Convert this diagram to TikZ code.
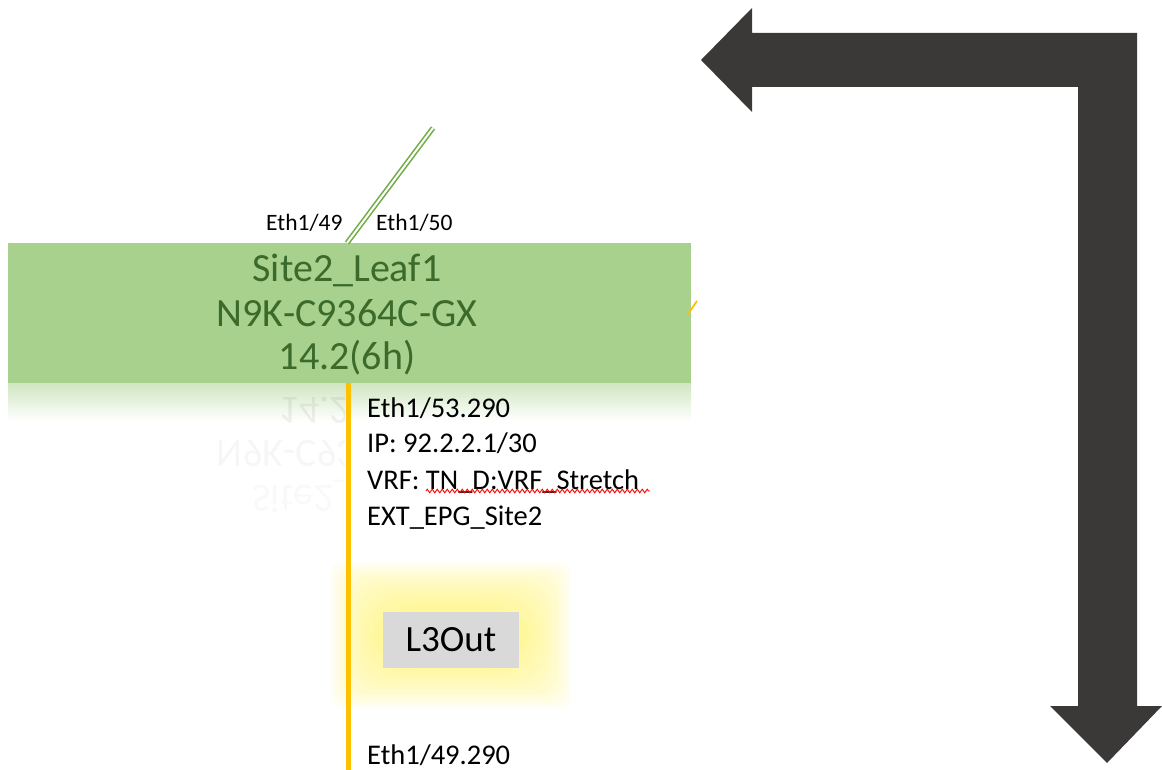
\documentclass[tikz,border=0pt]{standalone}
\usepackage{fontspec}
\setmainfont{Carlito}
\usetikzlibrary{decorations.pathmorphing}
\definecolor{leafgreen}{HTML}{A9D18E}
\definecolor{leaftext}{HTML}{3B6A2A}
\definecolor{linkgreen}{HTML}{70AD47}
\definecolor{l3orange}{HTML}{FFC000}
\definecolor{arrowgray}{HTML}{3B3838}
\definecolor{boxgray}{HTML}{D9D9D9}
\definecolor{glow}{HTML}{FFF36A}
\tikzset{
  leaftxt/.style={font=\fontsize{40}{42}\selectfont, text=leaftext, inner sep=0pt, anchor=base},
  porttxt/.style={font=\fontsize{23.5}{25}\selectfont, inner sep=0pt, anchor=base west},
  infotxt/.style={font=\fontsize{28.5}{30}\selectfont, inner sep=0pt, anchor=base west},
  mirtxt/.style={font=\fontsize{40}{42}\selectfont, text=black, opacity=0.06, inner sep=0pt, anchor=base, yscale=-1},
}
\begin{document}
\begin{tikzpicture}[x=1pt,y=-1pt]
\useasboundingbox (0,0) rectangle (1162,770);
% big L-shaped arrow
\fill[arrowgray] (701,60) -- (752,8) -- (752,33) -- (1137,33) -- (1137,706) -- (1162,706)
  -- (1107,763) -- (1050,706) -- (1078,706) -- (1078,87) -- (752,87) -- (752,112) -- cycle;
% leaf box
\node[fill=leafgreen, minimum width=683pt, minimum height=140pt, inner sep=0pt, anchor=north west] (leaf) at (8,243) {};
\node[leaftxt] (name) at (347,281) {Site2\_Leaf1};
\node[leaftxt] (model) at (347,326) {N9K-C9364C-GX};
\node[leaftxt] (ver) at (347,369) {14.2(6h)};
% reflection
\shade[top color=leafgreen!55, bottom color=white] (8,383) rectangle (691,421);
\begin{scope}
\clip (0,383) rectangle (344,530);
\node[mirtxt] (mver) at (347,397) {14.2(6h)};
\node[mirtxt, opacity=0.035] (mmodel) at (347,440) {N9K-C9364C-GX};
\node[mirtxt, opacity=0.025] (mname) at (347,485) {Site2\_Leaf1};
\end{scope}
% uplink
\coordinate (up) at (433,128);
\coordinate (upfoot) at (347,243);
\draw[linkgreen, line width=1.6pt, double=white, double distance=2pt] (upfoot) -- (up);
\node[porttxt] (p49) at (266,231) {Eth1/49};
\node[porttxt] (p50) at (376,231) {Eth1/50};
% small orange stub on right edge
\coordinate (stubA) at (688,314);
\coordinate (stubB) at (697,301);
\draw[l3orange, line width=1.8pt] (stubA) -- (stubB);
% glow around L3Out
\foreach \g in {0,...,19} {
  \fill[glow, opacity=0.06, rounded corners={(10+2.5*\g)*1pt}] ({383-52+2.6*\g},{612-50+2.6*\g}) rectangle ({519+52-2.6*\g},{668+40-2.6*\g});
}
% L3Out link
\coordinate (ltop) at (348,383);
\coordinate (lbot) at (348,770);
\draw[l3orange, line width=5pt] (ltop) -- (lbot);
\node[fill=boxgray, minimum width=136pt, minimum height=56pt, inner sep=0pt, font=\fontsize{37}{39}\selectfont] (l3out) at (451,640) {L3Out};
% info text
\node[infotxt] (i1) at (367,417) {Eth1/53.290};
\node[infotxt] (i2) at (367,452) {IP: 92.2.2.1/30};
\node[infotxt] (i3) at (367,489) {VRF: TN\_D:VRF\_Stretch};
\node[infotxt] (i4) at (367,525) {EXT\_EPG\_Site2};
\coordinate (sqA) at (426,491);
\coordinate (sqB) at (650,491);
\draw[red, line width=0.9pt, decorate, decoration={zigzag, amplitude=1.8pt, segment length=5pt}] (sqA) -- (sqB);
\node[infotxt] (i5) at (367,764) {Eth1/49.290};
\end{tikzpicture}
\end{document}
